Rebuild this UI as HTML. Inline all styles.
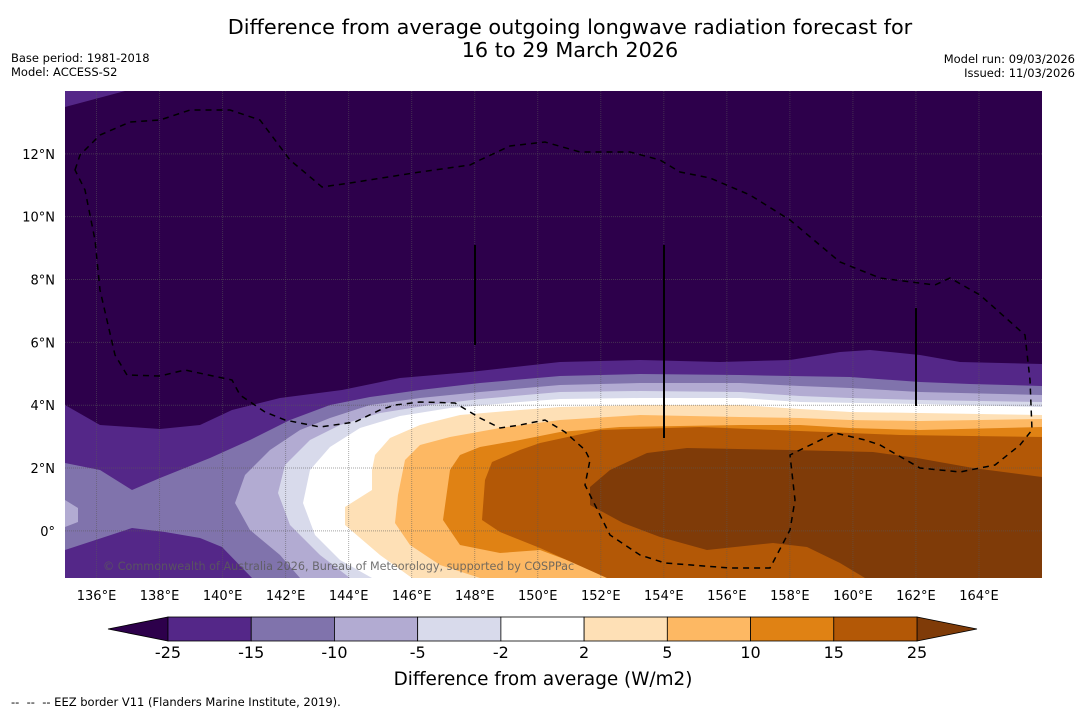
<!DOCTYPE html>
<html><head><meta charset="utf-8"><style>
body{margin:0;background:#fff;width:1085px;height:713px;overflow:hidden;font-family:"DejaVu Sans","Liberation Sans",sans-serif}
svg{position:absolute;left:0;top:0}
</style></head><body>
<svg id="c" width="1085" height="713" xmlns="http://www.w3.org/2000/svg" font-family="DejaVu Sans, Liberation Sans, sans-serif">
<text x="570" y="34" font-size="20.8" text-anchor="middle">Difference from average outgoing longwave radiation forecast for</text>
<text x="570" y="57" font-size="20.8" text-anchor="middle">16 to 29 March 2026</text>
<text x="11" y="62" font-size="11.5">Base period: 1981-2018</text>
<text x="11" y="76" font-size="11.5">Model: ACCESS-S2</text>
<text x="1075" y="63" font-size="11.5" text-anchor="end">Model run: 09/03/2026</text>
<text x="1075" y="77" font-size="11.5" text-anchor="end">Issued: 11/03/2026</text>
<defs><clipPath id="pc"><rect x="65" y="91" width="977" height="487"/></clipPath></defs>
<g id="plot" clip-path="url(#pc)"></g>
<g id="axes"></g>
<g id="cbar"></g>
<text x="543" y="685" font-size="18.4" text-anchor="middle">Difference from average (W/m2)</text>
<text x="11" y="706" font-size="11.5" xml:space="preserve" style="white-space:pre">--  --  -- EEZ border V11 (Flanders Marine Institute, 2019).</text>
</svg>
<script>
const NS='http://www.w3.org/2000/svg';
const lonTicks=[136,138,140,142,144,146,148,150,152,154,156,158,160,162,164];
const latTicks=[0,2,4,6,8,10,12];
const levels=[-25,-15,-10,-5,-2,2,5,10,15,25];
const levelColors=['#542788','#8073ac','#b2abd2','#d8daeb','#ffffff','#fee0b6','#fdb863','#e08214','#b35806'];
const underColor='#2d004b', overColor='#7f3b08';
const lonMin=135, lonMax=166, latMin=-1.5, latMax=14;
function X(lon){return 65+(lon-lonMin)*977/(lonMax-lonMin);}
function Y(lat){return 578-(lat-latMin)*487/(latMax-latMin);}
function el(t,a,p){const e=document.createElementNS(NS,t);for(const k in a)e.setAttribute(k,a[k]);p.appendChild(e);return e;}
const plot=document.getElementById('plot');
const regions=[
 ['#2d004b','M65 91H1042V578H65Z'],
 ['#542788','M65 91L125 91L65 107Z'],
 ['#542788','M65 405L100 425L160 429L200 425L232 410L280 398L342 390L400 378L470 372L560 362L640 360L720 362L790 360L840 352L870 350L920 355L960 362L1042 364V578H65Z'],
 ['#8073ac','M65 463L100 470L132 490L160 478L210 458L250 440L290 420L330 405L370 397L420 390L480 383L560 376L640 374L740 375L790 376L850 377L920 382L970 384L1042 386V578H252L222 547L200 538L165 532L132 528L65 550Z'],
 ['#b2abd2','M65 500L78 508L78 522L65 527Z'],
 ['#b2abd2','M235 503L245 475L270 450L300 430L330 418L370 405L420 398L480 392L560 385L640 383L740 383L800 386L850 388L920 392L1042 395V578H300L280 555L250 530Z'],
 ['#d8daeb','M278 493L285 465L310 440L340 425L380 413L430 405L480 399L560 392L640 391L740 392L800 396L850 398L920 400L1042 402V578H350L320 555L290 525Z'],
 ['#ffffff','M303 503L310 470L330 447L360 428L400 416L450 408L520 402L560 399L640 398L740 398L800 402L920 404L1042 407V578H372L340 560L315 535Z'],
 ['#fee0b6','M345 525L345 507L372 490L372 470L375 455L390 438L420 425L460 415L520 410L560 407L640 405L740 405L800 409L850 412L920 413L1042 415V578H412L380 555Z'],
 ['#fdb863','M395 523L398 495L405 460L420 445L450 437L500 428L560 420L640 415L740 417L800 418L850 420L920 421L1042 419V578H480L440 565L410 545Z'],
 ['#e08214','M443 520L450 470L460 455L480 447L520 440L560 432L620 427L740 425L800 425L850 428L920 430L1042 427V578H607L580 565L540 550L500 553L460 545Z'],
 ['#b35806','M482 520L485 480L492 462L520 450L540 443L600 430L700 427L800 431L900 435L1042 437V578H607L540 548L520 540L500 532Z'],
 ['#7f3b08','M590 505L590 487L610 470L647 453L687 448L790 450L873 452L917 458L973 468L1042 477V578H865L840 563L807 547L773 543L707 550L660 537L623 523Z']
];
regions.forEach((r,i)=>{
 const p=el('path',{d:r[1],fill:r[0]},plot);
 
 
});
lonTicks.forEach(l=>{const g=el('line',{x1:X(l),x2:X(l),y1:91,y2:578,stroke:'rgba(90,90,90,0.5)','stroke-width':1,'stroke-dasharray':'1 1'},plot);
 
 });
latTicks.forEach(l=>{const g=el('line',{x1:65,x2:1042,y1:Y(l),y2:Y(l),stroke:'rgba(90,90,90,0.55)','stroke-width':1,'stroke-dasharray':'1 1'},plot);
 
 });
const eez=el('path',{d:'M75 170L80 155L100 135L130 122L160 120L190 110L230 110L260 120L290 160L322 187L350 183L420 172L470 165L480 160L510 146L545 142L580 152L630 152L660 160L680 172L710 178L750 195L790 220L840 262L880 278L935 285L950 278L980 295L1025 335L1030 380L1032 430L1020 445L995 465L960 472L920 468L880 445L865 440L835 433L800 450L790 455L795 500L790 530L770 568L730 568L665 563L640 555L610 535L585 485L590 460L585 450L565 432L545 420L520 425L500 428L480 418L455 403L420 402L395 405L380 410L355 422L320 427L285 420L265 412L240 395L232 380L185 370L160 376L127 375L115 355L100 290L95 240L85 190Z',fill:'none',stroke:'#000','stroke-width':1.5,'stroke-dasharray':'6 5'},plot);


[[475,245,345],[664,245,438],[916,308,406]].forEach(v=>{const l=el('line',{x1:v[0],x2:v[0],y1:v[1],y2:v[2],stroke:'#000','stroke-width':2},plot);
 
 });
const cp=el('text',{x:103,y:570,'font-size':11.2,fill:'rgba(90,90,90,0.85)'},plot);cp.textContent='© Commonwealth of Australia 2026, Bureau of Meteorology, supported by COSPPac';


const axes=document.getElementById('axes');
lonTicks.forEach(l=>{const t=el('text',{x:X(l),y:600,'font-size':13,'text-anchor':'middle'},axes);t.textContent=l+'°E';
 
 });
latTicks.forEach(l=>{const t=el('text',{x:55,y:Y(l)+5,'font-size':13,'text-anchor':'end'},axes);t.textContent=l===0?'0°':l+'°N';
 
 });
const cb=document.getElementById('cbar');
const cbX0=168,cbX1=917,cbY=617,cbH=24,seg=(cbX1-cbX0)/levelColors.length;
const ut=el('polygon',{points:`108,${cbY+cbH/2} ${cbX0},${cbY} ${cbX0},${cbY+cbH}`,fill:underColor,stroke:'#000','stroke-width':0.8},cb);


const ot=el('polygon',{points:`977,${cbY+cbH/2} ${cbX1},${cbY} ${cbX1},${cbY+cbH}`,fill:overColor,stroke:'#000','stroke-width':0.8},cb);


levelColors.forEach((c,i)=>{const r=el('rect',{x:cbX0+i*seg,y:cbY,width:seg,height:cbH,fill:c,stroke:'#000','stroke-width':0.8},cb);
 
 });
levels.forEach((v,i)=>{const t=el('text',{x:cbX0+i*seg,y:658,'font-size':16,'text-anchor':'middle'},cb);t.textContent=v;
 
 });
</script>
</body></html>
